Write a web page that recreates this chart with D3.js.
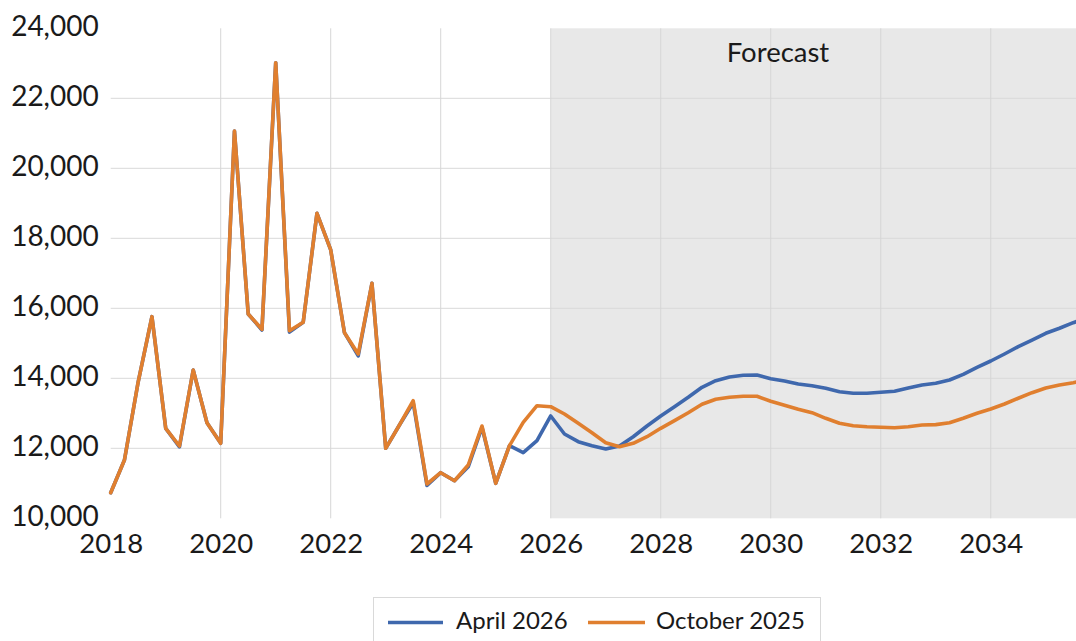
<!DOCTYPE html>
<html>
<head>
<meta charset="utf-8">
<script src="https://cdn.jsdelivr.net/npm/d3@7/dist/d3.min.js"></script>
<style>
  html, body { margin: 0; padding: 0; background: #fff; }
  svg { display: block; }
  text { font-family: Lato, "Open Sans", sans-serif; fill: #1a1a1a; }
</style>
</head>
<body>
<svg id="chart" width="1076" height="641"></svg>
<script>
// Quarterly series, first quarter of 2018 onward
const startYear = 2018;
const forecastStart = 2026;

const april2026 = [
  10730, 11666, 13900, 15760,
  12571, 12040, 14237, 12731,
  12143, 21066, 15837, 15380,
  23017, 15320, 15600, 18714,
  17666, 15303, 14640, 16714,
  12000, 12666, 13300, 10940,
  11303, 11074, 11470, 12600,
  11000, 12074, 11874, 12217,
  12923, 12409, 12190, 12074,
  11980, 12066, 12331, 12637,
  12923, 13190, 13457, 13743,
  13931, 14037, 14086, 14094,
  13989, 13923, 13837, 13789,
  13714, 13617, 13571, 13571,
  13600, 13628, 13723, 13809,
  13857, 13951, 14114, 14314,
  14494, 14694, 14903, 15094,
  15286, 15429, 15589, 15720
];

const october2025 = [
  10730, 11666, 13900, 15760,
  12571, 12066, 14237, 12731,
  12143, 21066, 15837, 15400,
  23017, 15360, 15600, 18714,
  17666, 15303, 14694, 16714,
  12000, 12666, 13360, 10980,
  11303, 11074, 11523, 12637,
  11000, 12074, 12743, 13217,
  13189, 12980, 12714, 12446,
  12160, 12046, 12143, 12331,
  12571, 12789, 13017, 13257,
  13400, 13457, 13486, 13486,
  13343, 13229, 13114, 13017,
  12857, 12714, 12646, 12617,
  12600, 12589, 12617, 12666,
  12676, 12731, 12857, 13000,
  13123, 13266, 13429, 13589,
  13723, 13809, 13874, 13950
];

const yTicks = [10000, 12000, 14000, 16000, 18000, 20000, 22000, 24000];
const xTicks = [2018, 2020, 2022, 2024, 2026, 2028, 2030, 2032, 2034];
const seriesNames = ["April 2026", "October 2025"];
const seriesColors = ["#3f68ad", "#e07f2f"];
const forecastLabel = "Forecast";

const svg = d3.select("#chart");
const plot = { left: 110.7, right: 1076, top: 28.3, bottom: 518.3 };

const x = d3.scaleLinear().domain([2018, 2035.55]).range([plot.left, plot.right]);
const y = d3.scaleLinear().domain([10000, 24000]).range([plot.bottom, plot.top]);

svg.append("defs").append("clipPath").attr("id", "plotClip")
  .append("rect")
  .attr("x", plot.left - 5).attr("y", 0)
  .attr("width", plot.right - plot.left + 5).attr("height", plot.bottom + 5);

// Forecast shading
svg.append("rect")
  .attr("x", x(forecastStart)).attr("y", y(24000))
  .attr("width", plot.right - x(forecastStart))
  .attr("height", y(10000) - y(24000))
  .attr("fill", "#e8e8e8");

// Gridlines
const grid = svg.append("g");
grid.selectAll("line.h")
  .data(yTicks.filter(d => d > 10000 && d < 24000))
  .join("line")
  .attr("x1", plot.left).attr("x2", plot.right)
  .attr("y1", d => y(d)).attr("y2", d => y(d))
  .attr("stroke", "#d9d9d9").attr("stroke-width", 1);
grid.selectAll("line.v")
  .data(xTicks.filter(d => d > 2018))
  .join("line")
  .attr("x1", d => x(d)).attr("x2", d => x(d))
  .attr("y1", y(24000)).attr("y2", y(10000))
  .attr("stroke", "#d6d6d6").attr("stroke-width", 1);

// Axes (labels only)
const yAxis = svg.append("g")
  .attr("transform", `translate(${plot.left},0)`)
  .call(d3.axisLeft(y).tickValues(yTicks).tickFormat(d3.format(",")).tickSize(0).tickPadding(12));
yAxis.select(".domain").remove();
yAxis.selectAll("text")
  .attr("font-size", 28).attr("dy", "0.25em")
  .style("font-family", "Lato, 'Open Sans', sans-serif").attr("fill", "#111");

const xAxis = svg.append("g")
  .attr("transform", `translate(0,${plot.bottom})`)
  .call(d3.axisBottom(x).tickValues(xTicks).tickFormat(d3.format("d")).tickSize(0).tickPadding(15));
xAxis.select(".domain").remove();
xAxis.selectAll("text")
  .attr("font-size", 27.5).attr("dy", "0.72em")
  .style("font-family", "Lato, 'Open Sans', sans-serif").attr("fill", "#111");

// Series lines
const line = d3.line()
  .x((d, i) => x(startYear + i / 4))
  .y(d => y(d));

const lines = svg.append("g").attr("clip-path", "url(#plotClip)");
[april2026, october2025].forEach((vals, k) => {
  lines.append("path")
    .datum(vals)
    .attr("d", line)
    .attr("fill", "none")
    .attr("stroke", seriesColors[k])
    .attr("stroke-width", 3.6)
    .attr("stroke-linejoin", "round")
    .attr("stroke-linecap", "round");
});

// Forecast label
svg.append("text")
  .attr("x", 778).attr("y", 62)
  .attr("text-anchor", "middle")
  .attr("font-size", 27.5)
  .attr("fill", "#111")
  .text(forecastLabel);

// Legend
const legend = svg.append("g");
legend.append("rect")
  .attr("x", 373.5).attr("y", 597.5)
  .attr("width", 447).attr("height", 50)
  .attr("fill", "#fff").attr("stroke", "#d9d9d9").attr("stroke-width", 1);
const legendItems = [
  { x1: 388, x2: 443, tx: 456 },
  { x1: 588, x2: 645, tx: 656 }
];
legendItems.forEach((it, k) => {
  legend.append("line")
    .attr("x1", it.x1).attr("x2", it.x2)
    .attr("y1", 622.5).attr("y2", 622.5)
    .attr("stroke", seriesColors[k]).attr("stroke-width", 3.6);
  legend.append("text")
    .attr("x", it.tx).attr("y", 628.5)
    .attr("font-size", 24)
    .attr("fill", "#111")
    .text(seriesNames[k]);
});
</script>
</body>
</html>
